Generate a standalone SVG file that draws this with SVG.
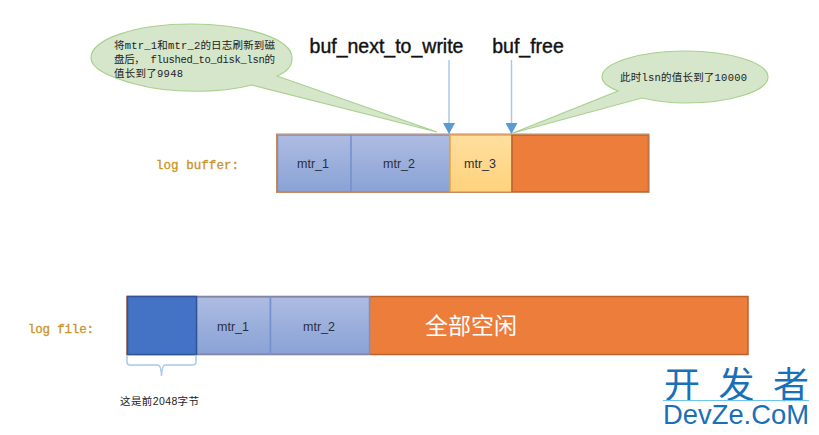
<svg xmlns="http://www.w3.org/2000/svg" width="819" height="435" viewBox="0 0 819 435">
<style>
.cell{font-family:"Liberation Sans","Noto Sans CJK SC",sans-serif;font-size:12.5px;fill:#2b2f3a;text-anchor:middle}
.ptr{font-family:"Liberation Sans",sans-serif;font-size:19.5px;fill:#111;text-anchor:middle;stroke:#111;stroke-width:.4}
.lab{font-family:"Liberation Mono",monospace;font-size:12.5px;fill:#c8962c;stroke:#c8962c;stroke-width:.35}
.note{font-family:"Liberation Mono","Noto Sans CJK SC",monospace;font-size:10.5px;fill:#222}
.blue{fill:url(#gb);stroke:#7590cc;stroke-width:1.5}
.call{fill:#d5e6cb;stroke:#a9d18e;stroke-width:1.2}
.arrow{stroke:#a9c9e8;stroke-width:1.5;fill:none;marker-end:url(#ah)}
.edge{fill:none;stroke:#c58a60;stroke-width:1}
</style>
<defs>
<linearGradient id="gb" x1="0" y1="0" x2="0" y2="1"><stop offset="0" stop-color="#adbce2"/><stop offset="1" stop-color="#8aa2d6"/></linearGradient>
<linearGradient id="gy" x1="0" y1="0" x2="0" y2="1"><stop offset="0" stop-color="#ffdf9f"/><stop offset="1" stop-color="#ffd27c"/></linearGradient>
<marker id="ah" markerUnits="userSpaceOnUse" markerWidth="12" markerHeight="12" refX="11" refY="6" orient="auto"><path d="M0,0 L11,6 L0,12 Z" fill="#5b9bd5"/></marker>
</defs>
<rect width="819" height="435" fill="#fff"/>

<g id="log-buffer">
<text class="lab" x="156" y="169" textLength="83" lengthAdjust="spacing">log buffer:</text>
<rect class="blue" x="277.500" y="135" width="74" height="57"/>
<text class="cell" x="313" y="168">mtr_1</text>
<rect class="blue" x="351" y="135" width="99" height="57"/>
<text class="cell" x="399" y="168">mtr_2</text>
<rect x="450" y="135" width="62" height="57" fill="url(#gy)" stroke="#f0a53a" stroke-width="1.500"/>
<text class="cell" x="480" y="168">mtr_3</text>
<rect x="512" y="135" width="136.500" height="57" fill="#ed7d3b" stroke="#b9622c" stroke-width="1.500"/>
<rect class="edge" x="276.500" y="134" width="372.500" height="58.500"/>
</g>

<g id="log-file">
<text class="lab" x="28" y="333" textLength="66" lengthAdjust="spacing">log file:</text>
<rect x="127" y="296.500" width="621" height="58" fill="#ed7d3b" stroke="#b9622c" stroke-width="1.500"/>
<rect class="blue" x="196.500" y="297" width="74" height="57"/>
<text class="cell" x="233" y="331">mtr_1</text>
<rect class="blue" x="270.500" y="297" width="99" height="57"/>
<text class="cell" x="319" y="331">mtr_2</text>
<rect x="127.500" y="296.500" width="69" height="58" fill="#4472c4" stroke="#2f5597" stroke-width="1.500"/>
<text x="471" y="334" font-family="'Noto Sans CJK SC',sans-serif" font-size="23" fill="#fff" text-anchor="middle">全部空闲</text>
</g>

<g id="brace">
<path d="M127,355 V362 Q127,365 130,365 H158 Q161,365 161.500,376 Q162,365 165,365 H192 Q196,365 196,362 V355" fill="none" stroke="#a9c9e8" stroke-width="1.500"/>
<text x="120" y="405" font-family="'Liberation Sans','Noto Sans CJK SC',sans-serif" font-size="10.500" fill="#222" textLength="79" lengthAdjust="spacing">这是前2048字节</text>
</g>

<g id="callout-flushed">
<path class="call" d="M252,85 C222,93 170,94 135,84 C105,76 91,67 91,58 C91,39 136,24 191,24 C247,24 292,39 292,58 C292,66 288,71 277,76 L437,132 Z"/>
<text class="note" x="114" y="49" textLength="161" lengthAdjust="spacing">将mtr_1和mtr_2的日志刷新到磁</text>
<text class="note" x="114" y="63" textLength="161" lengthAdjust="spacing">盘后， flushed_to_disk_lsn的</text>
<text class="note" x="114" y="77" textLength="69" lengthAdjust="spacing">值长到了9948</text>
</g>

<g id="callout-lsn">
<path class="call" d="M642,98 C660,102 672,103 685,103 C731,103 768,91 768,77 C768,63 731,51 685,51 C639,51 602,63 602,77 C602,83 608,87 618,91 L513,133 Z"/>
<text class="note" x="620" y="81" textLength="127" lengthAdjust="spacing">此时lsn的值长到了10000</text>
</g>

<g id="pointer-labels">
<text class="ptr" x="386.500" y="53">buf_next_to_write</text>
<text class="ptr" x="528" y="53">buf_free</text>
</g>

<g id="connectors">
<path class="arrow" d="M449,60 V134"/>
<path class="arrow" d="M511.500,60 V134"/>
</g>

<g id="logo">
<text x="664" y="398" font-family="'Noto Sans CJK SC',sans-serif" font-size="36" fill="#1a70b8" textLength="145" lengthAdjust="spacing">开发者</text>
<line x1="663" y1="400.500" x2="809" y2="400.500" stroke="#6cc5ee" stroke-width="1"/>
<text x="663" y="424" font-family="'Liberation Sans',sans-serif" font-size="28" fill="#1a70b8" textLength="146" lengthAdjust="spacingAndGlyphs">DevZe.CoM</text>
</g>
</svg>
